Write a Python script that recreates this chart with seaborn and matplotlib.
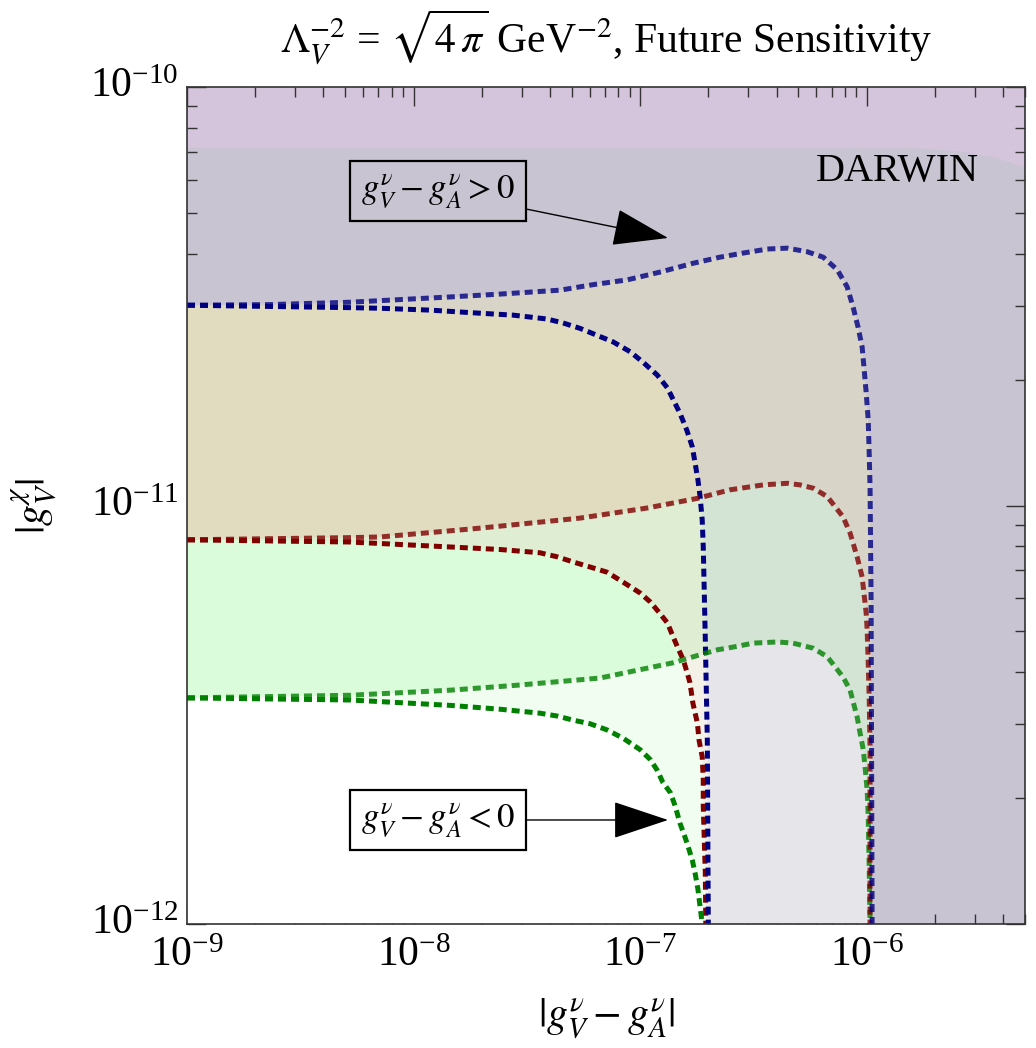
import numpy as np
import matplotlib
matplotlib.use("Agg")
import matplotlib.pyplot as plt
from matplotlib.patches import Polygon
from matplotlib.ticker import NullFormatter
import seaborn as sns

# ---- curve data: |g_V^nu - g_A^nu| (x) vs |g_V^chi| (y) ----
# blue, g_V - g_A > 0 branch
blue_pos_x = [1.00e-9, 2.32e-9, 5.25e-9, 1.45e-8, 2.41e-8, 4.44e-8, 6.19e-8, 8.77e-8,
              1.22e-7, 1.71e-7, 2.25e-7, 2.85e-7, 3.64e-7, 4.46e-7, 5.46e-7, 6.43e-7,
              7.41e-7, 8.20e-7, 8.71e-7, 9.16e-7, 9.55e-7, 9.75e-7, 9.95e-7, 1.016e-6,
              1.026e-6, 1.035e-6, 1.046e-6, 1.057e-6]
blue_pos_y = [3.01e-11, 3.02e-11, 3.06e-11, 3.15e-11, 3.20e-11, 3.27e-11, 3.37e-11, 3.46e-11,
              3.61e-11, 3.79e-11, 3.92e-11, 4.01e-11, 4.10e-11, 4.12e-11, 4.04e-11, 3.92e-11,
              3.66e-11, 3.33e-11, 2.98e-11, 2.67e-11, 2.39e-11, 2.11e-11, 1.86e-11, 1.60e-11,
              1.33e-11, 1.11e-11, 5.94e-12, 1.00e-12]
# blue, g_V - g_A < 0 branch
blue_neg_x = [1.00e-9, 5.25e-9, 7.11e-9, 1.18e-8, 1.97e-8, 2.75e-8, 3.27e-8, 3.88e-8,
              4.57e-8, 5.43e-8, 6.46e-8, 7.60e-8, 9.04e-8, 1.03e-7, 1.19e-7, 1.32e-7,
              1.40e-7, 1.50e-7, 1.61e-7, 1.70e-7, 1.75e-7, 1.80e-7, 1.84e-7, 1.88e-7,
              1.90e-7, 1.94e-7, 1.98e-7, 2.00e-7]
blue_neg_y = [3.01e-11, 2.97e-11, 2.96e-11, 2.93e-11, 2.88e-11, 2.85e-11, 2.82e-11, 2.79e-11,
              2.73e-11, 2.65e-11, 2.55e-11, 2.46e-11, 2.33e-11, 2.20e-11, 2.05e-11, 1.91e-11,
              1.79e-11, 1.66e-11, 1.51e-11, 1.38e-11, 1.26e-11, 1.15e-11, 1.05e-11, 9.23e-12,
              7.96e-12, 4.78e-12, 2.75e-12, 1.00e-12]
# red
red_pos_x = [1.00e-9, 5.25e-9, 7.11e-9, 1.45e-8, 1.97e-8, 5.43e-8, 1.07e-7, 1.79e-7,
             2.49e-7, 3.49e-7, 4.46e-7, 5.08e-7, 5.81e-7, 6.70e-7, 7.87e-7, 8.45e-7,
             9.08e-7, 9.55e-7, 9.95e-7, 1.005e-6, 1.016e-6, 1.026e-6, 1.035e-6, 1.035e-6]
red_pos_y = [8.28e-12, 8.38e-12, 8.41e-12, 8.70e-12, 8.83e-12, 9.33e-12, 9.86e-12, 1.04e-11,
             1.09e-11, 1.12e-11, 1.13e-11, 1.12e-11, 1.10e-11, 1.05e-11, 9.39e-12, 8.59e-12,
             7.53e-12, 6.75e-12, 5.53e-12, 5.04e-12, 4.21e-12, 3.48e-12, 2.65e-12, 1.00e-12]
red_neg_x = [1.00e-9, 5.25e-9, 1.45e-8, 2.41e-8, 3.61e-8, 4.31e-8, 5.06e-8, 6.01e-8,
             7.14e-8, 8.41e-8, 1.00e-7, 1.11e-7, 1.22e-7, 1.32e-7, 1.40e-7, 1.47e-7,
             1.55e-7, 1.61e-7, 1.66e-7, 1.71e-7, 1.79e-7, 1.82e-7, 1.88e-7, 1.90e-7,
             1.90e-7, 1.94e-7, 1.95e-7]
red_neg_y = [8.28e-12, 8.18e-12, 7.96e-12, 7.85e-12, 7.71e-12, 7.54e-12, 7.33e-12, 7.13e-12,
             6.93e-12, 6.56e-12, 6.18e-12, 5.88e-12, 5.53e-12, 5.24e-12, 4.85e-12, 4.56e-12,
             4.28e-12, 4.00e-12, 3.77e-12, 3.37e-12, 3.02e-12, 2.75e-12, 2.51e-12, 2.21e-12,
             1.91e-12, 1.32e-12, 1.00e-12]
# green
green_pos_x = [1.00e-9, 5.25e-9, 1.45e-8, 2.86e-8, 6.65e-8, 1.40e-7, 1.84e-7, 2.19e-7,
               2.58e-7, 3.16e-7, 4.03e-7, 4.73e-7, 5.81e-7, 6.70e-7, 7.87e-7, 8.45e-7,
               9.08e-7, 9.35e-7, 9.66e-7, 9.84e-7, 1.005e-6, 1.016e-6, 1.026e-6, 1.035e-6]
green_pos_y = [3.47e-12, 3.52e-12, 3.62e-12, 3.72e-12, 3.87e-12, 4.21e-12, 4.40e-12, 4.52e-12,
               4.59e-12, 4.69e-12, 4.72e-12, 4.69e-12, 4.56e-12, 4.35e-12, 3.89e-12, 3.62e-12,
               3.12e-12, 2.86e-12, 2.61e-12, 2.37e-12, 2.09e-12, 1.80e-12, 1.37e-12, 1.00e-12]
green_neg_x = [1.00e-9, 5.25e-9, 1.45e-8, 2.41e-8, 3.61e-8, 4.31e-8, 5.06e-8, 6.01e-8,
               7.14e-8, 8.41e-8, 1.00e-7, 1.11e-7, 1.19e-7, 1.26e-7, 1.36e-7, 1.43e-7,
               1.50e-7, 1.58e-7, 1.63e-7, 1.70e-7, 1.75e-7, 1.80e-7, 1.84e-7, 1.88e-7]
green_neg_y = [3.47e-12, 3.43e-12, 3.33e-12, 3.26e-12, 3.19e-12, 3.14e-12, 3.07e-12, 3.01e-12,
               2.91e-12, 2.78e-12, 2.61e-12, 2.47e-12, 2.33e-12, 2.18e-12, 2.06e-12, 1.91e-12,
               1.74e-12, 1.61e-12, 1.53e-12, 1.42e-12, 1.32e-12, 1.21e-12, 1.10e-12, 1.00e-12]
# current-limit band at the top of the panel
limit_x = [1.00e-9, 1.60e-6, 2.67e-6, 3.77e-6, 5.13e-6, 6.0e-6]
limit_y = [7.15e-11, 7.15e-11, 7.00e-11, 6.76e-11, 6.40e-11, 6.20e-11]

# tick decades
x_decades = [1e-9, 1e-8, 1e-7, 1e-6]
y_decades = [1e-12, 1e-11, 1e-10]

XMIN, XMAX = 1e-9, 5e-6
YMIN, YMAX = 1e-12, 1e-10

sns.set_theme(style="ticks")
plt.rcParams["font.family"] = ["Liberation Serif", "DejaVu Serif"]
plt.rcParams["mathtext.fontset"] = "stix"
for key in ("text.color", "axes.labelcolor", "xtick.labelcolor", "ytick.labelcolor"):
    plt.rcParams[key] = "black"

fig = plt.figure(figsize=(10.36, 10.48), dpi=100)
ax = fig.add_axes([0.1805, 0.1183, 0.8089, 0.7987])
ax.set_xscale("log")
ax.set_yscale("log")
ax.set_facecolor("#C8C4D2")


def under(xs, ys):
    """Polygon vertices for the region below a contour (down to the bottom, left edge)."""
    v = list(zip(xs, ys))
    v += [(xs[-1], 1e-13), (1e-10, 1e-13), (1e-10, ys[0])]
    return v


def paint(xs, ys, color, z, clip=None):
    p = Polygon(under(xs, ys), closed=True, facecolor=color, edgecolor="none", zorder=z)
    ax.add_patch(p)
    if clip is not None:
        cp = Polygon(under(*clip), closed=True, transform=ax.transData)
        p.set_clip_path(cp)
    return p


# top limit band
band = list(zip(limit_x, limit_y)) + [(limit_x[-1], 1e-9), (1e-10, 1e-9), (1e-10, limit_y[0])]
ax.add_patch(Polygon(band, closed=True, facecolor="#D4C4DC", edgecolor="none", zorder=0.5))

# stacked sensitivity regions
paint(blue_pos_x, blue_pos_y, "#D8D4C8", 1.0)
paint(blue_neg_x, blue_neg_y, "#E1DCC0", 1.1)
paint(red_pos_x, red_pos_y, "#D4E4D4", 1.2)
paint(red_pos_x, red_pos_y, "#DFEDD2", 1.3, clip=(blue_neg_x, blue_neg_y))
paint(red_neg_x, red_neg_y, "#DAFCDA", 1.4)
paint(green_pos_x, green_pos_y, "#E6E6EA", 1.5)
paint(green_pos_x, green_pos_y, "#F4F1E8", 1.6, clip=(blue_neg_x, blue_neg_y))
paint(green_pos_x, green_pos_y, "#F0FDF0", 1.7, clip=(red_neg_x, red_neg_y))
paint(green_neg_x, green_neg_y, "#FFFFFF", 1.8)

# dashed contours
dash = (0, (1.6, 1.0))
lw = 3.6
for xs, ys, col, a, z in [
    (green_neg_x, green_neg_y, "#008000", 1.0, 3.0),
    (red_neg_x, red_neg_y, "#800000", 1.0, 3.1),
    (blue_neg_x, blue_neg_y, "#000080", 1.0, 3.2),
    (green_pos_x, green_pos_y, "#008000", 0.8, 3.3),
    (red_pos_x, red_pos_y, "#800000", 0.8, 3.4),
    (blue_pos_x, blue_pos_y, "#000080", 0.8, 3.5),
]:
    sns.lineplot(x=xs, y=ys, ax=ax, color=col, alpha=a, lw=lw, linestyle=dash,
                 estimator=None, sort=False, dash_capstyle="butt", zorder=z)

ax.set_xlim(XMIN, XMAX)
ax.set_ylim(YMIN, YMAX)

# ticks: decades labelled, 2..9 minor ticks, only inside the plotted range
x_minor = [m * d for d in [1e-9, 1e-8, 1e-7, 1e-6] for m in range(2, 10) if m * d <= XMAX]
y_minor = [m * d for d in [1e-12, 1e-11] for m in range(2, 10)]
ax.set_xticks(x_decades)
ax.set_yticks(y_decades)
ax.set_xticks(x_minor, minor=True)
ax.set_yticks(y_minor, minor=True)
ax.xaxis.set_minor_formatter(NullFormatter())
ax.yaxis.set_minor_formatter(NullFormatter())
ax.set_xlim(XMIN, XMAX)
ax.set_ylim(YMIN, YMAX)

for s in ax.spines.values():
    s.set_color("#333333")
    s.set_linewidth(1.2)
    s.set_zorder(5)
ax.tick_params(which="both", direction="in", top=True, right=True, color="#333333",
               width=1.0, zorder=6)
ax.tick_params(which="major", length=13.5, labelsize=30)
ax.tick_params(which="minor", length=7.2)
ax.tick_params(axis="x", which="major", pad=9)
ax.tick_params(axis="y", which="major", pad=6)
for t in ax.get_yticklabels():
    t.set_verticalalignment("center")

ax.set_xlabel(r"$|g_V^{\nu} - g_A^{\nu}|$", fontsize=30)
ax.set_ylabel(r"$|g_V^{\chi}|$", fontsize=30)
ax.xaxis.set_label_coords(0.501, -0.085)
ax.yaxis.set_label_coords(-0.152, 0.50)

ax.set_title(r"$\Lambda_V^{-2}$ = $\sqrt{4\,\pi}$ GeV$^{-2}$, Future Sensitivity",
             fontsize=30, pad=24)

box = dict(boxstyle="square,pad=0.33", facecolor="none", edgecolor="black", lw=1.6)
arrow = dict(arrowstyle="-|>,head_length=1.8,head_width=0.6", mutation_scale=20,
             color="black", lw=1.0, shrinkA=0, shrinkB=0)
ax.annotate(r"$g_V^{\nu} - g_A^{\nu} > 0$", xy=(0.574, 0.8196), xycoords="axes fraction",
            xytext=(0.2995, 0.8757), textcoords="axes fraction", ha="center", va="center",
            fontsize=25, bbox=box, arrowprops=arrow, zorder=7)
ax.annotate(r"$g_V^{\nu} - g_A^{\nu} < 0$", xy=(0.574, 0.1243), xycoords="axes fraction",
            xytext=(0.2995, 0.1243), textcoords="axes fraction", ha="center", va="center",
            fontsize=25, bbox=box, arrowprops=arrow, zorder=7)
ax.text(0.848, 0.899, "DARWIN", transform=ax.transAxes, ha="center", va="center",
        fontsize=29, zorder=7)

fig.savefig("out.png", dpi=100)
